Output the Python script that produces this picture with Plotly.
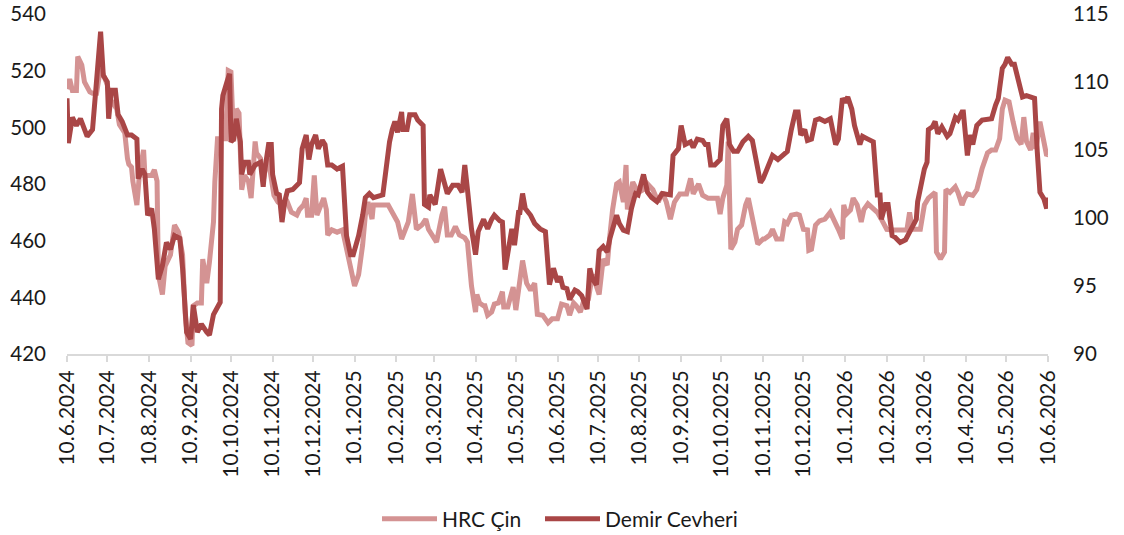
import pandas as pd
import plotly.graph_objects as go

START = pd.Timestamp("2024-06-10")

# HRC Çin (left axis) - days since 10.6.2024 and values
hrc_days = [0, 2, 4, 7, 8, 11, 13, 17, 19, 22, 25, 28, 30, 32, 37, 39, 43, 45, 46, 48, 49, 52, 54, 57, 58,
            63, 65, 67, 68, 71, 73, 77, 80, 83, 86, 88, 90, 93, 94, 97, 100, 101, 104, 106, 109, 110, 112,
            118, 120, 122, 124, 126, 128, 130, 132, 135, 137, 140, 141, 144, 146, 149, 151, 154, 157, 161,
            164, 167, 171, 173, 176, 178, 179, 182, 184, 186, 188, 191, 193, 194, 197, 201, 205, 208, 211,
            214, 217, 220, 222, 224, 227, 228, 239, 243, 246, 249, 252, 254, 257, 258, 260, 264, 267, 269,
            272, 275, 279, 281, 283, 286, 289, 292, 296, 298, 301, 304, 305, 307, 310, 311, 313, 316, 318,
            321, 324, 325, 328, 332, 334, 336, 339, 342, 345, 348, 350, 354, 358, 361, 365, 368, 372, 374,
            377, 379, 382, 384, 388, 391, 394, 396, 399, 402, 404, 406, 409, 411, 414, 416, 417, 421, 425,
            429, 432, 436, 440, 443, 446, 449, 452, 456, 461, 464, 466, 470, 473, 477, 484, 486, 488, 491,
            492, 494, 497, 499, 502, 505, 507, 510, 512, 514, 518, 519, 523, 525, 528, 532, 534, 536, 539,
            543, 545, 548, 551, 552, 554, 557, 560, 564, 568, 570, 574, 577, 578, 580, 583, 585, 588, 591,
            593, 596, 600, 603, 606, 610, 615, 625, 627, 629, 635, 638, 641, 644, 646, 647, 650, 653, 654,
            657, 661, 663, 666, 668, 670, 674, 677, 681, 685, 688, 691, 694, 696, 698, 701, 704, 707, 710,
            712, 714, 717, 719, 721, 724, 726, 729, 730]
hrc_values = [513.5, 517, 513, 513, 525, 522, 516, 512.5, 512, 512, 521, 517, 515, 510, 506.5, 501, 498, 489,
              487, 486, 481, 472.6, 484, 492, 483, 483, 485, 481, 448, 441, 451, 455, 465.5, 463, 455, 434,
              424, 423, 437, 438, 438, 453.5, 445, 452.5, 466.6, 480.7, 496, 496, 520, 519.5, 495, 506.5,
              505, 478, 483, 481, 475, 495, 491, 489, 481, 489, 485, 476, 473.6, 472.6, 473.6, 470, 469,
              471, 472.6, 475, 469, 469, 483, 469, 471, 475, 471, 462, 463.8, 463, 463.8, 457, 450, 444,
              448, 458.5, 469, 473.6, 467.6, 472.6, 472.6, 469.4, 466.6, 460.6, 464, 466.6, 476.5, 472.6,
              464, 465.5, 467.6, 464, 462, 459.5, 469, 472, 462, 462, 465, 462, 461, 459.5, 444, 434.8,
              441, 438, 437, 437, 433.7, 434.8, 437.6, 438, 442, 436.6, 436.6, 443.6, 435.5, 443, 453,
              445, 442.5, 445, 434, 433.7, 431, 432.4, 432.4, 437.6, 437, 433.7, 438, 437, 434.8, 438,
              439.4, 448, 443, 441, 453.5, 451.4, 462, 471, 480, 480.7, 473.6, 486.7, 471, 480.7, 477,
              478, 480, 478, 473.6, 477, 473.6, 467.6, 473.6, 476.5, 476.5, 482, 476.5, 480, 476, 475,
              475, 469.4, 475, 479.6, 495, 457, 459.5, 464, 465.5, 472.6, 475, 467.6, 465, 458.8, 460.6,
              460.6, 462, 464, 460.6, 460.6, 466.6, 466, 469, 469.4, 469, 464, 463.8, 456.6, 457, 465.5,
              467, 467.6, 470, 467.6, 464, 460.6, 472.6, 469.4, 470.8, 475, 472.6, 466.6, 471, 473, 471,
              470, 467.6, 464, 463.8, 463.8, 470, 464, 464, 472.6, 475, 476.5, 477, 456, 453.5, 456, 478,
              477, 479, 477, 472.6, 475, 476.5, 476, 478, 485.5, 491, 492, 492, 496, 506.5, 509.6, 509,
              502, 496, 494, 503.6, 495, 492, 498, 492.4, 502, 497, 490, 490.5]

# Demir Cevheri (right axis)
ore_days = [0, 1, 4, 7, 10, 15, 19, 22, 25, 27, 30, 31, 33, 36, 38, 41, 45, 48, 52, 53, 56, 58, 60, 63, 65,
            68, 71, 74, 77, 80, 84, 86, 89, 92, 94, 97, 100, 104, 106, 109, 114, 115, 116, 119, 121, 122,
            124, 126, 129, 130, 132, 135, 136, 140, 144, 146, 147, 150, 152, 153, 156, 158, 160, 162, 164,
            168, 173, 175, 178, 180, 182, 185, 187, 190, 192, 194, 197, 201, 205, 208, 211, 213, 217, 220,
            222, 225, 228, 235, 238, 239, 240, 242, 244, 246, 249, 250, 253, 255, 259, 261, 265, 266, 269,
            270, 274, 278, 281, 283, 287, 291, 294, 296, 298, 301, 304, 306, 310, 313, 316, 318, 322, 324,
            326, 328, 331, 333, 336, 337, 339, 341, 345, 348, 352, 356, 358, 359, 362, 365, 367, 369, 372,
            374, 378, 380, 383, 387, 389, 391, 394, 396, 399, 402, 404, 406, 409, 411, 414, 417, 420, 423,
            425, 429, 432, 435, 439, 443, 449, 451, 455, 457, 460, 464, 466, 469, 473, 475, 477, 479, 482,
            486, 488, 491, 493, 496, 499, 503, 507, 510, 513, 516, 518, 521, 523, 525, 529, 533, 536, 539,
            542, 544, 546, 549, 551, 554, 557, 560, 564, 568, 570, 572, 574, 577, 579, 581, 584, 586, 590,
            592, 596, 600, 603, 605, 606, 609, 611, 614, 616, 620, 624, 626, 630, 632, 633, 636, 638, 640,
            641, 644, 646, 648, 651, 655, 657, 661, 663, 666, 667, 670, 672, 674, 677, 681, 685, 688, 691,
            693, 696, 698, 700, 703, 705, 707, 709, 711, 714, 717, 720, 722, 724, 727, 729, 730]
ore_values = [108.8, 105.5, 107.4, 106.8, 107.3, 106.0, 106.5, 109.8, 113.7, 110.5, 110.0, 107.3, 109.4, 109.4,
              107.6, 107.1, 106.1, 106.1, 105.8, 102.9, 103.6, 103.2, 100.2, 100.7, 99.2, 95.5, 96.5, 98.2,
              97.7, 98.7, 98.5, 96.3, 91.6, 91.1, 93.6, 91.6, 92.2, 91.6, 91.4, 92.9, 93.8, 108.0, 109.0,
              110.0, 110.6, 105.6, 105.8, 107.3, 105.6, 103.2, 104.1, 104.1, 103.2, 103.9, 104.1, 102.3,
              103.4, 105.4, 105.4, 103.2, 101.8, 101.7, 99.7, 101.2, 102.0, 102.1, 102.6, 105.1, 106.1,
              104.3, 105.4, 106.1, 105.1, 105.7, 105.4, 103.9, 103.9, 103.6, 103.8, 98.7, 97.3, 97.3, 98.7,
              100.2, 101.5, 101.8, 101.5, 101.7, 104.3, 105.4, 105.6, 106.5, 107.1, 106.3, 107.8, 106.5,
              106.5, 107.6, 107.6, 107.2, 106.8, 101.0, 100.8, 101.7, 101.0, 103.6, 102.6, 101.8, 102.4,
              102.4, 101.9, 103.9, 102.1, 99.2, 97.3, 99.0, 99.9, 99.2, 99.9, 100.2, 99.8, 99.7, 96.2, 97.3,
              99.2, 98.0, 100.4, 100.4, 101.8, 100.7, 100.2, 99.6, 99.2, 99.0, 96.5, 95.1, 96.3, 95.3, 95.7,
              94.9, 94.8, 94.0, 94.7, 94.6, 94.3, 93.3, 96.3, 95.5, 95.1, 97.6, 97.9, 97.5, 98.5, 99.2,
              100.2, 99.6, 99.1, 99.0, 100.7, 101.8, 101.7, 103.2, 101.9, 101.5, 101.2, 101.8, 101.7, 104.6,
              105.1, 106.8, 105.4, 105.6, 105.2, 105.8, 105.7, 105.4, 105.4, 103.9, 103.9, 104.3, 106.8,
              107.3, 105.4, 104.9, 104.9, 105.6, 106.0, 105.7, 104.1, 102.6, 102.9, 103.6, 103.9, 104.6,
              104.3, 104.6, 104.9, 106.5, 107.8, 107.8, 106.1, 106.5, 105.7, 105.8, 107.2, 107.3, 107.1,
              107.3, 106.5, 105.4, 105.8, 108.8, 108.5, 108.9, 108.0, 106.8, 105.4, 106.0, 105.8, 105.6,
              101.7, 101.7, 99.9, 101.0, 101.0, 98.7, 98.6, 98.2, 98.4, 98.8, 99.5, 99.9, 101.2, 102.9,
              103.6, 104.1, 106.5, 106.7, 107.1, 106.2, 106.7, 106.0, 106.2, 107.4, 107.2, 107.8, 107.8,
              104.6, 106.1, 105.4, 106.8, 107.2, 107.3, 107.3, 108.3, 108.8, 111.0, 111.3, 111.8, 111.3,
              111.3, 110.5, 109.8, 108.9, 109.0, 108.9, 108.8, 104.9, 101.9, 101.4, 100.7, 101.5]

tick_labels = ["10.6.2024", "10.7.2024", "10.8.2024", "10.9.2024", "10.10.2024", "10.11.2024",
               "10.12.2024", "10.1.2025", "10.2.2025", "10.3.2025", "10.4.2025", "10.5.2025",
               "10.6.2025", "10.7.2025", "10.8.2025", "10.9.2025", "10.10.2025", "10.11.2025",
               "10.12.2025", "10.1.2026", "10.2.2026", "10.3.2026", "10.4.2026", "10.5.2026",
               "10.6.2026"]

series_names = ["HRC Çin", "Demir Cevheri"]
left_ticks = [420, 440, 460, 480, 500, 520, 540]
right_ticks = [90, 95, 100, 105, 110, 115]

hrc_dates = START + pd.to_timedelta(hrc_days, unit="D")
ore_dates = START + pd.to_timedelta(ore_days, unit="D")
tick_dates = pd.to_datetime(tick_labels, format="%d.%m.%Y")

LIGHT = "#D49393"
DARK = "#A94646"
FONT = "Lato"
TXT = "#1a1a1a"

fig = go.Figure()
fig.add_trace(go.Scatter(x=hrc_dates, y=hrc_values, name=series_names[0], mode="lines",
                         line=dict(color=LIGHT, width=5), yaxis="y", legend="legend"))
fig.add_trace(go.Scatter(x=ore_dates, y=ore_values, name=series_names[1], mode="lines",
                         line=dict(color=DARK, width=5), yaxis="y2", legend="legend2"))

W, H = 1124, 535
L, R, T, B = 67, 1048, 14, 354
LEG_Y = (B - 519) / (B - T)


def legend_at(left_px):
    return dict(orientation="h", x=(left_px - L) / (R - L), xanchor="left",
                y=LEG_Y, yanchor="middle",
                font=dict(family=FONT, size=21, color=TXT),
                itemwidth=55, bgcolor="rgba(0,0,0,0)")


fig.update_layout(
    width=W, height=H,
    margin=dict(l=L, r=W - R, t=T, b=H - B, autoexpand=False),
    paper_bgcolor="white", plot_bgcolor="white",
    font=dict(family=FONT, size=21, color=TXT),
    showlegend=True,
    legend=legend_at(377),
    legend2=legend_at(540),
    xaxis=dict(type="date", range=[tick_dates[0], tick_dates[-1]],
               tickmode="array", tickvals=tick_dates, ticktext=tick_labels,
               tickangle=-90, showgrid=False, zeroline=False, automargin=False,
               showline=True, linecolor="#D9D9D9", linewidth=2,
               ticks="outside", ticklen=6, tickwidth=2, tickcolor="#D9D9D9",
               ticklabeloverflow="allow",
               tickfont=dict(family=FONT, size=21, color=TXT)),
    yaxis=dict(range=[420, 540], tickmode="array", tickvals=left_ticks,
               showgrid=False, zeroline=False, showline=False, ticks="",
               automargin=False, ticklabelstandoff=20, ticklabeloverflow="allow",
               tickfont=dict(family=FONT, size=20.5, color=TXT)),
    yaxis2=dict(range=[90, 115], tickmode="array", tickvals=right_ticks,
                overlaying="y", side="right", anchor="x",
                showgrid=False, zeroline=False, showline=False, ticks="",
                automargin=False, ticklabelstandoff=24, ticklabeloverflow="allow",
                tickfont=dict(family=FONT, size=20.5, color=TXT)),
)

fig.write_html("out.html", config={"displayModeBar": False},
               post_script="document.body.style.margin='0';document.body.style.overflow='hidden';")
